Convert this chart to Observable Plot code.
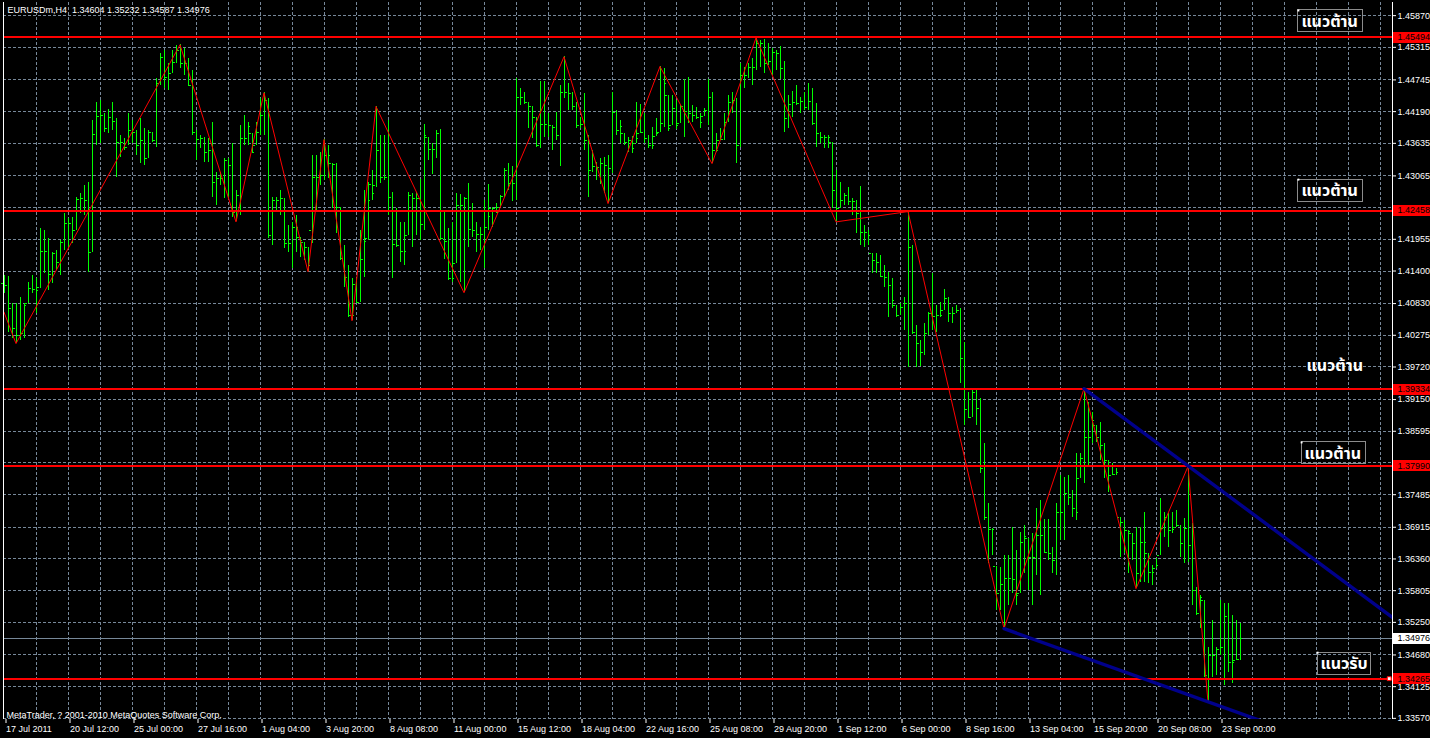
<!DOCTYPE html>
<html><head><meta charset="utf-8">
<script src="https://cdn.jsdelivr.net/npm/d3@7"></script>
<script src="https://cdn.jsdelivr.net/npm/@observablehq/plot@0.6"></script>
<style>
html,body{margin:0;padding:0;background:#000;overflow:hidden}
svg{display:block}
</style>
</head><body>
<div id="chart"></div>
<script>
// ---------- data ----------
const symbolTitle = "EURUSDm,H4";
const lastQuote = [1.34604, 1.35232, 1.34587, 1.34976];
const footerText = "MetaTrader, ? 2001-2010 MetaQuotes Software Corp.";

const high = [1.4132,1.4130,1.4083,1.4083,1.4093,1.4083,1.4120,1.4132,1.4127,1.4214,1.4211,1.4197,1.4172,1.4176,1.4193,1.4240,1.4232,1.4233,1.4268,1.4275,
1.4289,1.4295,1.4403,1.4435,1.4438,1.4415,1.4422,1.4435,1.4407,1.4377,1.4372,1.4415,1.4403,1.4386,1.4407,1.4389,1.4386,1.4382,1.4477,1.4520,
1.4526,1.4503,1.4526,1.4534,1.4536,1.4529,1.4512,1.4491,1.4386,1.4377,1.4373,1.4372,1.4400,1.4312,1.4312,1.4337,1.4337,1.4363,1.4281,1.4394,
1.4412,1.4400,1.4380,1.4400,1.4442,1.4452,1.4442,1.4268,1.4268,1.4281,1.4267,1.4219,1.4225,1.4237,1.4198,1.4190,1.4181,1.4342,1.4342,1.4347,
1.4370,1.4359,1.4328,1.4328,1.4251,1.4184,1.4149,1.4127,1.4127,1.4211,1.4281,1.4295,1.4316,1.4428,1.4377,1.4377,1.4403,1.4277,1.4249,1.4225,
1.4225,1.4277,1.4275,1.4277,1.4300,1.4396,1.4373,1.4363,1.4386,1.4387,1.4242,1.4214,1.4225,1.4275,1.4274,1.4268,1.4293,1.4258,1.4225,1.4216,
1.4263,1.4291,1.4251,1.4258,1.4272,1.4319,1.4328,1.4323,1.4477,1.4459,1.4452,1.4435,1.4428,1.4408,1.4471,1.4471,1.4415,1.4394,1.4417,1.4464,
1.4515,1.4468,1.4452,1.4435,1.4408,1.4450,1.4377,1.4351,1.4330,1.4337,1.4338,1.4342,1.4452,1.4421,1.4403,1.4380,1.4373,1.4375,1.4435,1.4431,
1.4415,1.4377,1.4391,1.4407,1.4498,1.4494,1.4447,1.4447,1.4438,1.4429,1.4475,1.4478,1.4429,1.4426,1.4415,1.4424,1.4475,1.4452,1.4380,1.4389,
1.4415,1.4447,1.4452,1.4442,1.4503,1.4496,1.4503,1.4512,1.4548,1.4543,1.4546,1.4538,1.4529,1.4526,1.4533,1.4506,1.4447,1.4454,1.4464,1.4443,
1.4452,1.4468,1.4459,1.4433,1.4382,1.4377,1.4377,1.4365,1.4316,1.4295,1.4275,1.4286,1.4267,1.4263,1.4288,1.4219,1.4211,1.4170,1.4170,1.4168,
1.4149,1.4137,1.4127,1.4079,1.4083,1.4093,1.4244,1.4184,1.4044,1.4018,1.4048,1.4067,1.4135,1.4079,1.4085,1.4107,1.4093,1.4076,1.4079,1.4074,
1.4015,1.3927,1.3931,1.3934,1.3917,1.3838,1.3733,1.3689,1.3623,1.3621,1.3642,1.3642,1.3691,1.3651,1.3682,1.3694,1.3672,1.3680,1.3724,1.3738,
1.3705,1.3705,1.3656,1.3733,1.3782,1.3778,1.3782,1.3756,1.3820,1.3820,1.3934,1.3910,1.3892,1.3869,1.3875,1.3838,1.3808,1.3803,1.3794,1.3708,
1.3703,1.3686,1.3680,1.3691,1.3691,1.3717,1.3645,1.3624,1.3637,1.3742,1.3717,1.3715,1.3717,1.3721,1.3694,1.3707,1.3798,1.3698,1.3586,1.3572,
1.3563,1.3481,1.3528,1.3481,1.3563,1.3558,1.3558,1.3537,1.3528,1.35232];

const low = [1.4100,1.4032,1.4022,1.4013,1.4018,1.4022,1.4083,1.4100,1.4065,1.4109,1.4135,1.4106,1.4118,1.4141,1.4132,1.4176,1.4181,1.4188,1.4211,1.4240,
1.4237,1.4137,1.4172,1.4359,1.4363,1.4382,1.4380,1.4386,1.4303,1.4338,1.4351,1.4359,1.4363,1.4342,1.4328,1.4324,1.4337,1.4365,1.4356,1.4464,
1.4459,1.4456,1.4485,1.4503,1.4494,1.4482,1.4464,1.4377,1.4333,1.4354,1.4330,1.4330,1.4268,1.4254,1.4289,1.4267,1.4268,1.4233,1.4226,1.4237,
1.4359,1.4359,1.4345,1.4359,1.4377,1.4377,1.4197,1.4184,1.4246,1.4237,1.4179,1.4172,1.4144,1.4172,1.4163,1.4158,1.4139,1.4188,1.4246,1.4289,
1.4298,1.4302,1.4249,1.4205,1.4158,1.4111,1.4058,1.4053,1.4085,1.4085,1.4128,1.4193,1.4263,1.4286,1.4293,1.4298,1.4237,1.4127,1.4181,1.4155,
1.4149,1.4202,1.4181,1.4202,1.4193,1.4211,1.4333,1.4309,1.4337,1.4193,1.4160,1.4123,1.4120,1.4153,1.4120,1.4102,1.4181,1.4198,1.4172,1.4176,
1.4144,1.4211,1.4216,1.4240,1.4251,1.4268,1.4281,1.4261,1.4263,1.4429,1.4431,1.4389,1.4372,1.4356,1.4354,1.4373,1.4373,1.4351,1.4368,1.4323,
1.4442,1.4421,1.4421,1.4389,1.4389,1.4351,1.4268,1.4312,1.4298,1.4291,1.4275,1.4258,1.4310,1.4377,1.4363,1.4359,1.4347,1.4345,1.4363,1.4380,
1.4363,1.4354,1.4352,1.4375,1.4382,1.4391,1.4384,1.4394,1.4387,1.4398,1.4373,1.4398,1.4400,1.4405,1.4389,1.4410,1.4394,1.4328,1.4347,1.4368,
1.4368,1.4400,1.4415,1.4328,1.4356,1.4459,1.4477,1.4464,1.4491,1.4496,1.4485,1.4499,1.4482,1.4491,1.4475,1.4382,1.4389,1.4408,1.4429,1.4415,
1.4421,1.4421,1.4394,1.4356,1.4363,1.4354,1.4354,1.4249,1.4226,1.4249,1.4254,1.4254,1.4237,1.4205,1.4184,1.4181,1.4184,1.4135,1.4135,1.4128,
1.4111,1.4058,1.4074,1.4058,1.4062,1.4036,1.3971,1.4029,1.3971,1.3972,1.3992,1.4027,1.4036,1.4032,1.4058,1.4071,1.4050,1.4048,1.4065,1.3943,
1.3869,1.3882,1.3883,1.3869,1.3785,1.3703,1.3628,1.3642,1.3546,1.3546,1.3514,1.3554,1.3575,1.3554,1.3575,1.3610,1.3581,1.3554,1.3607,1.3572,
1.3645,1.3633,1.3610,1.3607,1.3668,1.3668,1.3729,1.3708,1.3703,1.3777,1.3768,1.3799,1.3838,1.3840,1.3808,1.3777,1.3752,1.3782,1.3782,1.3638,
1.3645,1.3610,1.3633,1.3584,1.3595,1.3595,1.3593,1.3589,1.3619,1.3642,1.3673,1.3656,1.3680,1.3691,1.3638,1.3628,1.3630,1.3554,1.3537,1.3514,
1.3428,1.3385,1.3428,1.3432,1.3467,1.3414,1.3437,1.3418,1.3458,1.34587];

const open = [1.4118,1.4114,1.4074,1.4039,1.4027,1.4030,1.4083,1.4109,1.4107,1.4111,1.4174,1.4174,1.4134,1.4170,1.4155,1.4190,1.4223,1.4223,1.4211,1.4265,
1.4267,1.4263,1.4172,1.4379,1.4410,1.4412,1.4389,1.4408,1.4401,1.4365,1.4365,1.4356,1.4386,1.4382,1.4359,1.4368,1.4337,1.4382,1.4368,1.4468,
1.4513,1.4478,1.4485,1.4505,1.4526,1.4503,1.4503,1.4464,1.4382,1.4370,1.4372,1.4347,1.4351,1.4295,1.4302,1.4302,1.4333,1.4324,1.4242,1.4272,
1.4372,1.4372,1.4380,1.4359,1.4382,1.4412,1.4438,1.4202,1.4263,1.4263,1.4267,1.4188,1.4188,1.4216,1.4198,1.4190,1.4181,1.4211,1.4303,1.4303,
1.4307,1.4342,1.4328,1.4326,1.4251,1.4162,1.4128,1.4062,1.4116,1.4085,1.4160,1.4197,1.4291,1.4289,1.4351,1.4303,1.4303,1.4268,1.4186,1.4184,
1.4174,1.4202,1.4272,1.4267,1.4267,1.4221,1.4373,1.4352,1.4352,1.4380,1.4197,1.4191,1.4127,1.4153,1.4254,1.4254,1.4267,1.4212,1.4211,1.4204,
1.4204,1.4216,1.4249,1.4249,1.4251,1.4270,1.4316,1.4293,1.4293,1.4443,1.4443,1.4435,1.4428,1.4408,1.4359,1.4396,1.4396,1.4394,1.4391,1.4377,
1.4452,1.4452,1.4450,1.4428,1.4394,1.4396,1.4368,1.4316,1.4323,1.4321,1.4328,1.4324,1.4319,1.4417,1.4386,1.4380,1.4365,1.4368,1.4363,1.4380,
1.4382,1.4372,1.4359,1.4375,1.4382,1.4398,1.4447,1.4394,1.4424,1.4398,1.4428,1.4419,1.4415,1.4412,1.4408,1.4410,1.4421,1.4443,1.4351,1.4368,
1.4370,1.4400,1.4435,1.4438,1.4359,1.4482,1.4482,1.4496,1.4496,1.4538,1.4538,1.4503,1.4506,1.4522,1.4520,1.4494,1.4407,1.4431,1.4435,1.4433,
1.4436,1.4426,1.4436,1.4398,1.4380,1.4373,1.4373,1.4365,1.4281,1.4249,1.4263,1.4272,1.4261,1.4261,1.4240,1.4207,1.4207,1.4170,1.4158,1.4155,
1.4130,1.4128,1.4114,1.4079,1.4062,1.4077,1.4083,1.4181,1.4032,1.4013,1.3997,1.4030,1.4065,1.4060,1.4062,1.4071,1.4092,1.4065,1.4065,1.4071,
1.3987,1.3897,1.3883,1.3927,1.3899,1.3794,1.3708,1.3687,1.3623,1.3575,1.3591,1.3602,1.3602,1.3600,1.3575,1.3665,1.3672,1.3638,1.3638,1.3677,
1.3677,1.3647,1.3645,1.3633,1.3717,1.3717,1.3750,1.3743,1.3724,1.3777,1.3812,1.3848,1.3848,1.3869,1.3848,1.3834,1.3808,1.3782,1.3784,1.3708,
1.3700,1.3686,1.3680,1.3663,1.3610,1.3665,1.3645,1.3612,1.3619,1.3642,1.3689,1.3708,1.3686,1.3691,1.3694,1.3663,1.3689,1.3659,1.3581,1.3540,
1.3563,1.3432,1.3467,1.3467,1.3478,1.3481,1.3535,1.3455,1.3458,1.34604];

const close = [1.4114,1.4074,1.4039,1.4027,1.4030,1.4079,1.4109,1.4107,1.4106,1.4174,1.4174,1.4134,1.4170,1.4155,1.4190,1.4223,1.4223,1.4211,1.4265,1.4267,
1.4263,1.4172,1.4379,1.4410,1.4412,1.4389,1.4408,1.4401,1.4365,1.4365,1.4356,1.4386,1.4382,1.4359,1.4368,1.4337,1.4382,1.4368,1.4468,1.4513,
1.4478,1.4485,1.4505,1.4526,1.4503,1.4503,1.4464,1.4382,1.4370,1.4372,1.4347,1.4351,1.4295,1.4302,1.4302,1.4333,1.4324,1.4242,1.4272,1.4372,
1.4372,1.4393,1.4347,1.4382,1.4412,1.4438,1.4202,1.4263,1.4263,1.4267,1.4188,1.4188,1.4216,1.4216,1.4193,1.4181,1.4149,1.4303,1.4303,1.4307,
1.4342,1.4342,1.4326,1.4251,1.4162,1.4128,1.4062,1.4062,1.4085,1.4160,1.4191,1.4263,1.4275,1.4351,1.4303,1.4303,1.4268,1.4186,1.4184,1.4174,
1.4174,1.4272,1.4267,1.4267,1.4221,1.4377,1.4352,1.4352,1.4380,1.4197,1.4191,1.4127,1.4127,1.4254,1.4254,1.4267,1.4212,1.4211,1.4204,1.4204,
1.4216,1.4235,1.4249,1.4242,1.4270,1.4316,1.4293,1.4293,1.4443,1.4443,1.4435,1.4428,1.4420,1.4359,1.4396,1.4396,1.4394,1.4391,1.4377,1.4452,
1.4452,1.4450,1.4428,1.4394,1.4396,1.4368,1.4316,1.4323,1.4321,1.4328,1.4324,1.4319,1.4417,1.4386,1.4393,1.4365,1.4368,1.4354,1.4372,1.4382,
1.4372,1.4359,1.4359,1.4380,1.4398,1.4468,1.4389,1.4424,1.4394,1.4428,1.4419,1.4415,1.4412,1.4408,1.4400,1.4421,1.4443,1.4351,1.4351,1.4370,
1.4400,1.4435,1.4438,1.4359,1.4482,1.4482,1.4496,1.4496,1.4538,1.4538,1.4503,1.4506,1.4522,1.4520,1.4494,1.4407,1.4431,1.4435,1.4433,1.4436,
1.4426,1.4436,1.4398,1.4380,1.4373,1.4373,1.4373,1.4281,1.4249,1.4263,1.4272,1.4261,1.4261,1.4240,1.4207,1.4207,1.4202,1.4158,1.4155,1.4130,
1.4128,1.4114,1.4088,1.4062,1.4077,1.4083,1.4181,1.4032,1.4013,1.3997,1.4030,1.4065,1.4060,1.4062,1.4062,1.4092,1.4065,1.4065,1.4071,1.3987,
1.3897,1.3883,1.3927,1.3899,1.3794,1.3708,1.3687,1.3687,1.3575,1.3591,1.3602,1.3602,1.3600,1.3572,1.3665,1.3675,1.3638,1.3638,1.3677,1.3677,
1.3647,1.3645,1.3633,1.3717,1.3717,1.3750,1.3743,1.3724,1.3717,1.3812,1.3848,1.3848,1.3878,1.3848,1.3834,1.3808,1.3782,1.3784,1.3787,1.3700,
1.3686,1.3684,1.3663,1.3610,1.3665,1.3665,1.3612,1.3612,1.3624,1.3689,1.3708,1.3686,1.3687,1.3694,1.3663,1.3689,1.3659,1.3581,1.3540,1.3568,
1.3432,1.3467,1.3467,1.3478,1.3481,1.3535,1.3455,1.3455,1.3460,1.34976];

const timeLabels = ["17 Jul 2011","20 Jul 12:00","25 Jul 00:00","27 Jul 16:00","1 Aug 04:00","3 Aug 20:00","8 Aug 08:00","11 Aug 00:00",
"15 Aug 12:00","18 Aug 04:00","22 Aug 16:00","25 Aug 08:00","29 Aug 20:00","1 Sep 12:00","6 Sep 00:00","8 Sep 16:00",
"13 Sep 04:00","15 Sep 20:00","20 Sep 08:00","23 Sep 00:00"];
const barsPerLabel = 16;
const barsPerGrid = 8;

const priceTicks = [1.45870,1.45315,1.44745,1.44190,1.43635,1.43065,1.42510,1.41955,1.41400,1.40830,1.40275,1.39720,
1.39150,1.38595,1.38040,1.37485,1.36915,1.36360,1.35805,1.35250,1.34680,1.34125,1.33570];

const levels = [1.45494, 1.42458, 1.39334, 1.37990, 1.34265];
const bidPrice = 1.34976;
const levelHandleBar = 346.3;

const zigzagBars = [0,3,44,58,65,76,80,87,93,115,140,151,164,177,188,208,226,250,270,283,296,301];
const zigzagPrices = [1.4068,1.4013,1.4536,1.4226,1.4452,1.4139,1.4370,1.4053,1.4428,1.4102,1.4515,1.4258,1.4498,1.4328,1.4548,1.4226,1.4244,1.3514,1.3934,1.3584,1.3798,1.3385];

const trendUpperBars = [270, 296];
const trendUpperPrices = [1.3934, 1.3799];
const trendLowerBars = [250, 301];
const trendLowerPrices = [1.3514, 1.3386];

const labelTexts = ["แนวต้าน","แนวต้าน","แนวต้าน","แนวต้าน","แนวรับ"];
const labelBars = [323.6, 323.6, 324.9, 324.4, 328.4];
const labelPrices = [1.4596, 1.4300, 1.3993, 1.3840, 1.3472];
const labelBoxed = [true, true, false, true, true];

// ---------- build ----------
const yDomain = [1.3355, 1.4610];
const xDomain = [-0.125, 347.125];
const H = 738, mTop = 2, mBottom = 19;
const pxPerPrice = (H - mTop - mBottom) / (yDomain[1] - yDomain[0]);
const pxPerBar = 4;

const bars = high.map((h, i) => ({i, h, l: low[i], o: open[i], c: close[i]}));
const zigzag = zigzagBars.map((i, k) => ({i, p: zigzagPrices[k]}));
function ray(b, p) {
  const s = (p[1] - p[0]) / (b[1] - b[0]);
  const end = xDomain[1] + 2;
  return [{i: b[0], p: p[0]}, {i: end, p: p[0] + s * (end - b[0])}];
}
const trendUpper = ray(trendUpperBars, trendUpperPrices);
const trendLower = ray(trendLowerBars, trendLowerPrices);

// price labels hidden under the level tags are not printed (their grid lines stay)
const axisLabels = priceTicks.filter(t => !levels.some(l => Math.abs(l - t) < 6 / pxPerPrice));

const combining = /[\u0E31\u0E34-\u0E3A\u0E47-\u0E4E]/g;
const labels = labelTexts.map((t, k) => ({
  t, i: labelBars[k], p: labelPrices[k], boxed: labelBoxed[k],
  w: (t.replace(combining, "").length * 10.7) / pxPerBar
}));
const boxed = labels.filter(d => d.boxed);
const boxH = 22 / pxPerPrice;

const gridColor = "#778899";
const barColor = "#00ff00";
const smallFont = "Tahoma, 'Liberation Sans', Arial, sans-serif";
const thaiFont = "Tahoma, 'Noto Sans Thai', 'Leelawadee UI', 'Garuda', 'Loma', 'DejaVu Sans', sans-serif";
const fmt = d3.format(".5f");
const tagEnd = xDomain[1] + 12;

const chart = Plot.plot({
  width: 1430, height: H,
  marginLeft: 3, marginRight: 38, marginTop: mTop, marginBottom: mBottom,
  style: {background: "#000", color: "#fff", fontFamily: smallFont, fontSize: "9px"},
  x: {domain: xDomain},
  y: {domain: yDomain},
  marks: [
    // grid
    Plot.ruleY(priceTicks, {stroke: gridColor, strokeDasharray: "3,2", shapeRendering: "crispEdges"}),
    Plot.ruleX(d3.range(barsPerGrid, xDomain[1], barsPerGrid), {stroke: gridColor, strokeDasharray: "3,2", shapeRendering: "crispEdges"}),
    // bid line
    Plot.ruleY([bidPrice], {stroke: gridColor, shapeRendering: "crispEdges"}),
    // OHLC bars
    Plot.ruleX(bars, {x: "i", y1: "l", y2: "h", stroke: barColor, shapeRendering: "crispEdges"}),
    Plot.ruleY(bars, {y: "o", x1: d => d.i - 0.625, x2: d => d.i - 0.125, stroke: barColor, shapeRendering: "crispEdges"}),
    Plot.ruleY(bars, {y: "c", x1: d => d.i + 0.125, x2: d => d.i + 0.625, stroke: barColor, shapeRendering: "crispEdges"}),
    // horizontal levels
    Plot.ruleY(levels, {stroke: "#ff0000", strokeWidth: 2, shapeRendering: "crispEdges"}),
    // zigzag
    Plot.line(zigzag, {x: "i", y: "p", stroke: "#ff0000", strokeWidth: 1}),
    // trend lines
    Plot.line(trendUpper, {x: "i", y: "p", stroke: "#00008b", strokeWidth: 3.4, clip: true}),
    Plot.line(trendLower, {x: "i", y: "p", stroke: "#00008b", strokeWidth: 3.4, clip: true}),
    // frame sides
    Plot.ruleX([xDomain[0]], {stroke: "#fff"}),
    Plot.ruleX([xDomain[1]], {stroke: "#fff", shapeRendering: "crispEdges"}),
    // axes
    Plot.axisY(axisLabels, {anchor: "right", tickSize: 3, tickPadding: 2, tickFormat: fmt, label: null}),
    Plot.axisX(d3.range(0, timeLabels.length * barsPerLabel, barsPerLabel), {
      anchor: "bottom", tickSize: 4, tickPadding: 2, label: null, textAnchor: "start", dx: 2,
      tickFormat: i => timeLabels[i / barsPerLabel]
    }),
    // price tags
    Plot.ruleY(levels, {x1: xDomain[1] + 0.3, x2: tagEnd, stroke: "#ff0000", strokeWidth: 11, shapeRendering: "crispEdges"}),
    Plot.text(levels, {x: xDomain[1], y: d => d, dx: 5, text: fmt, textAnchor: "start", fill: "#000"}),
    Plot.ruleY([bidPrice], {x1: xDomain[1] + 0.3, x2: tagEnd, stroke: "#fff", strokeWidth: 11, shapeRendering: "crispEdges"}),
    Plot.text([bidPrice], {x: xDomain[1], y: d => d, dx: 5, text: fmt, textAnchor: "start", fill: "#000"}),
    Plot.dot([levels[levels.length - 1]], {x: levelHandleBar, y: d => d, symbol: "square", r: 2.2, fill: "#fff", stroke: "#ff0000", strokeWidth: 1}),
    // text objects
    Plot.rect(boxed, {x1: "i", x2: d => d.i + d.w, y1: "p", y2: d => d.p - boxH, fill: "none", stroke: "#8c8c8c", shapeRendering: "crispEdges"}),
    Plot.text(labels, {x: "i", y: "p", text: "t", dx: 3, dy: 11, textAnchor: "start", lineAnchor: "middle", fill: "#fff",
      fontSize: 16, fontWeight: "bold", fontFamily: thaiFont}),
    Plot.dot(boxed, {x: "i", y: "p", symbol: "square", r: 1.1, fill: "#fff"}),
    // header & footer
    Plot.text([symbolTitle + "  " + lastQuote.map(fmt).join(" ")], {frameAnchor: "top-left", dx: 4, dy: 4, lineAnchor: "top", textAnchor: "start", fill: "#fff"}),
    Plot.text([footerText], {frameAnchor: "bottom-left", dx: 3, dy: -2, lineAnchor: "bottom", textAnchor: "start", fill: "#fff"})
  ]
});
document.getElementById("chart").append(chart);
</script>
</body></html>
